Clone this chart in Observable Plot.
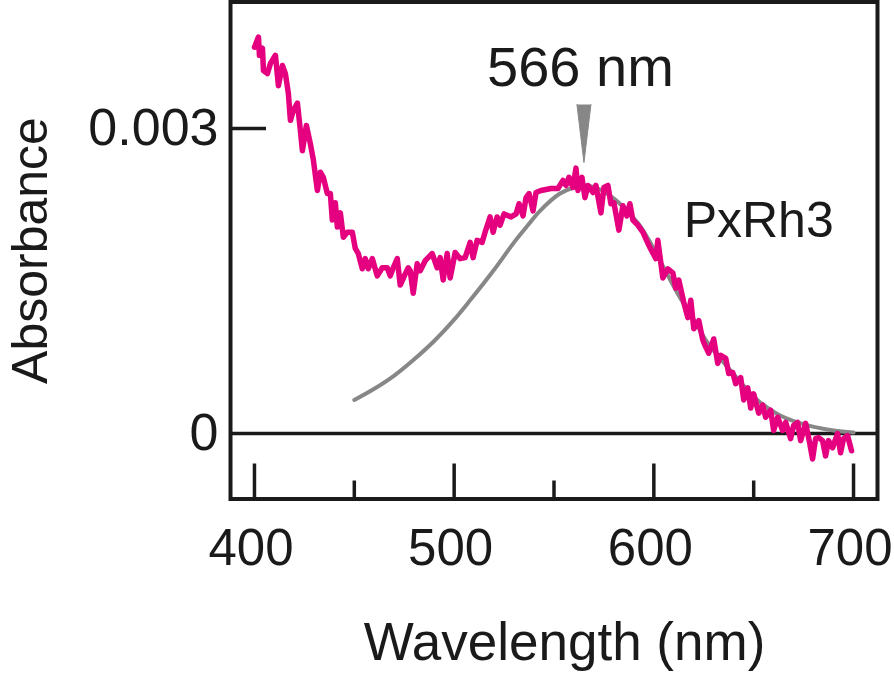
<!DOCTYPE html>
<html>
<head>
<meta charset="utf-8">
<script src="https://cdn.jsdelivr.net/npm/d3@7"></script>
<script src="https://cdn.jsdelivr.net/npm/@observablehq/plot@0.6"></script>
<style>
html, body { margin: 0; padding: 0; background: #ffffff; }
</style>
</head>
<body>
<div id="chart"></div>
<script>
// ---- Data ----
const seriesName = "PxRh3";
const xAxisLabel = "Wavelength (nm)";
const yAxisLabel = "Absorbance";
const peakNm = 566;

const xMajorTicks = [400, 500, 600, 700];
const xMinorTicks = [450, 550, 650];
const yTickValues = [0, 0.003];
const yTickLabels = ["0", "0.003"];

// measured difference spectrum (magenta)
const spectrumNm = [
  400, 402, 402.5, 404, 404.5, 406.5, 408, 410.5, 412, 414, 415.5, 417, 418, 419.5, 421.5, 423, 424, 426, 428, 429.5,
  431.5, 433, 434.5, 436.5, 438, 439, 440.5, 441.5, 443, 444.5, 446.5, 449, 450.5, 452, 454, 455.5, 457, 459, 461.5, 464,
  466.5, 468, 469.5, 471.5, 473, 475.5, 477, 478, 479.5, 481.5, 483, 485.5, 489, 491.5, 493, 494.5, 496.5, 498, 500.5, 503,
  505.5, 508, 509.5, 511.5, 514, 515.5, 518, 519.5, 521.5, 523, 525, 528.5, 531, 532.5, 534.5, 536, 537.5, 539.5, 541, 543.5,
  548.5, 552, 554.5, 556, 557.5, 559.5, 561, 562, 564, 565.5, 567, 569.5, 571, 573.5, 575, 577, 578.5, 580, 582.5, 584.5,
  586.5, 588, 589.5, 592, 594.5, 597.5, 601, 602, 604.5, 607, 609.5, 611, 612.5, 615, 617, 618.5, 620, 622.5, 624.5, 626,
  627.5, 630, 632, 633.5, 636, 637.5, 639.5, 641, 643.5, 645, 647, 648.5, 650, 652.5, 654.5, 656, 658.5, 660, 662, 664.5,
  666, 668.5, 670, 672, 673.5, 676, 677.5, 679.5, 681, 682.5, 684.5, 686, 687.5, 689.5, 692, 693.5, 695, 697, 699
];
const spectrumAbs = [
  0.00380, 0.00390, 0.00372, 0.00379, 0.00357, 0.00354, 0.00364, 0.00372, 0.00342, 0.00362, 0.00354, 0.00334, 0.00308, 0.00318, 0.00325, 0.00298, 0.00278, 0.00303, 0.00285, 0.00269,
  0.00239, 0.00257, 0.00252, 0.00236, 0.00236, 0.00210, 0.00227, 0.00203, 0.00217, 0.00193, 0.00198, 0.00198, 0.00182, 0.00177, 0.00162, 0.00172, 0.00162, 0.00172, 0.00155, 0.00163,
  0.00163, 0.00155, 0.00163, 0.00172, 0.00146, 0.00157, 0.00163, 0.00160, 0.00138, 0.00167, 0.00160, 0.00170, 0.00177, 0.00163, 0.00173, 0.00151, 0.00177, 0.00153, 0.00178, 0.00172,
  0.00173, 0.00188, 0.00173, 0.00190, 0.00188, 0.00198, 0.00213, 0.00198, 0.00213, 0.00205, 0.00216, 0.00213, 0.00216, 0.00226, 0.00214, 0.00232, 0.00236, 0.00219, 0.00237, 0.00239,
  0.00241, 0.00241, 0.00249, 0.00244, 0.00252, 0.00242, 0.00261, 0.00239, 0.00252, 0.00232, 0.00244, 0.00237, 0.00244, 0.00217, 0.00242, 0.00244, 0.00226, 0.00227, 0.00200, 0.00224,
  0.00214, 0.00226, 0.00210, 0.00205, 0.00198, 0.00185, 0.00172, 0.00190, 0.00153, 0.00162, 0.00158, 0.00143, 0.00151, 0.00129, 0.00114, 0.00131, 0.00103, 0.00111, 0.00092, 0.00085,
  0.00079, 0.00093, 0.00069, 0.00077, 0.00074, 0.00059, 0.00060, 0.00049, 0.00055, 0.00033, 0.00045, 0.00025, 0.00039, 0.00020, 0.00028, 0.00016, 0.00023, 0.00003, 0.00016, 0.00003,
  0.00011, -0.00005, 0.00008, 0.00011, -0.00007, 0.00010, -0.00004, -0.00025, -0.00005, -0.00004, -0.00007, -0.00022, -0.00007, -0.00014, 0.00000, -0.00019, -0.00005, -0.00002, -0.00017
];

// fitted template (grey)
const templateNm = [450, 460, 470, 480, 490, 500, 508, 520, 530, 537, 543, 553, 560, 566, 572, 578, 583, 592, 597, 605, 613, 620, 627, 638, 645, 653, 663, 677, 690, 700];
const templateAbs = [0.00033, 0.00044, 0.00057, 0.00073, 0.00091, 0.00112, 0.00131, 0.00161, 0.00188, 0.00205, 0.00219, 0.00236, 0.00242, 0.00244, 0.00241, 0.00234, 0.00226, 0.00207, 0.00192, 0.00163, 0.00134, 0.00112, 0.00089, 0.00063, 0.00047, 0.00031, 0.00018, 0.00008, 0.00003, 0.00001];

const spectrum = spectrumNm.map((nm, i) => ({nm, abs: spectrumAbs[i]}));
const template = templateNm.map((nm, i) => ({nm, abs: templateAbs[i]}));

const ink = "#1a1a1a";
const magenta = "#e4007f";
const grey = "#878787";
const font = "'Liberation Sans', Arial, Helvetica, sans-serif";

const chart = Plot.plot({
  width: 894,
  height: 675,
  marginLeft: 230,
  marginRight: 17,
  marginTop: 1.5,
  marginBottom: 176.5,
  x: {domain: [388, 712]},
  y: {domain: [-0.000644, 0.004244]},
  style: {fontFamily: font, color: ink, background: "#ffffff", overflow: "visible"},
  marks: [
    Plot.ruleY([0], {stroke: ink, strokeWidth: 3.5}),
    Plot.axisX({ticks: xMajorTicks, tickSize: -35, strokeWidth: 3.5, tickFormat: () => "", label: null}),
    Plot.axisX({ticks: xMinorTicks, tickSize: -18, strokeWidth: 3.5, tickFormat: () => "", label: null}),
    Plot.axisX({ticks: xMajorTicks, tickSize: 0, tickPadding: 29.5, dx: -3.5, fontSize: 51, label: null, tickFormat: d => String(d)}),
    Plot.axisY({ticks: [yTickValues[1]], tickSize: -36, strokeWidth: 3.5, tickFormat: () => "", label: null}),
    Plot.axisY({ticks: yTickValues, tickSize: 0, tickPadding: 12, fontSize: 52, label: null, tickFormat: d => yTickLabels[yTickValues.indexOf(d)]}),
    Plot.line(template, {x: "nm", y: "abs", stroke: grey, strokeWidth: 4, curve: "catmull-rom"}),
    Plot.line(spectrum, {x: "nm", y: "abs", stroke: magenta, strokeWidth: 5.5}),
    Plot.frame({stroke: ink, strokeWidth: 4}),
    Plot.vector([peakNm], {x: d => d, frameAnchor: "top", dy: 102.5, dx: -2, rotate: 180, length: 58, shape: "spike", r: 7, anchor: "start", fill: grey, stroke: grey, strokeWidth: 1}),
    Plot.text([peakNm], {x: d => d, frameAnchor: "top", lineAnchor: "middle", textAnchor: "middle", dy: 66.5, dx: -5.5, text: d => `${d} nm`, fontSize: 56, fill: ink}),
    Plot.text([seriesName], {x: () => 652.5, frameAnchor: "top", lineAnchor: "middle", textAnchor: "middle", dy: 219, text: d => d, fontSize: 50, fill: ink}),
    Plot.text([xAxisLabel], {frameAnchor: "bottom", lineAnchor: "middle", textAnchor: "middle", dy: 144, dx: 10.5, text: d => d, fontSize: 53, fill: ink}),
    Plot.text([yAxisLabel], {frameAnchor: "left", lineAnchor: "middle", textAnchor: "middle", dx: -200, rotate: -90, text: d => d, fontSize: 50, fill: ink})
  ]
});
document.getElementById("chart").appendChild(chart);
</script>
</body>
</html>
